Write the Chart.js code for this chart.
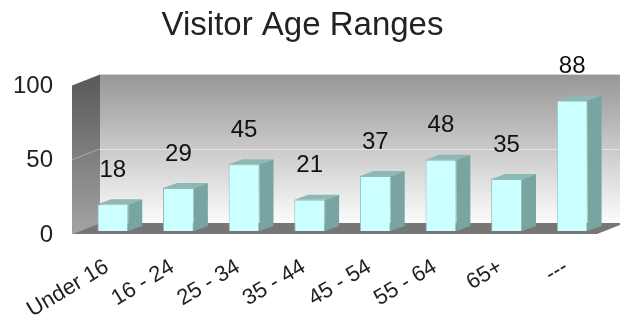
<!DOCTYPE html>
<html>
<head>
<meta charset="utf-8">
<script src="https://cdn.jsdelivr.net/npm/chart.js@4/dist/chart.umd.min.js"></script>
<style>
  html, body { margin: 0; padding: 0; background: #fff; }
  #wrap { width: 620px; height: 322px; }
</style>
</head>
<body>
<div id="wrap"><canvas id="chart" width="620" height="322"></canvas></div>
<script>
// data
const ageRanges = ['Under 16', '16 - 24', '25 - 34', '35 - 44', '45 - 54', '55 - 64', '65+', '---'];
const visitors = [18, 29, 45, 21, 37, 48, 35, 88];
const yTicks = [0, 50, 100];

const FONT = "'Liberation Sans', Arial, sans-serif";
// depth offsets (bar plane -> front of box / back wall, bar depth)
const FRONT = { x: -8, y: 3 };
const BACK = { x: 20, y: -8 };
const BAR_D = { x: 14, y: -5 };

// walls, floor and grid drawn behind the bars
const box3d = {
  id: 'box3d',
  beforeDatasetsDraw(chart) {
    const { ctx, chartArea: a, scales } = chart;
    const L = a.left, R = a.right, T = a.top, B = a.bottom;
    ctx.save();

    // back wall
    let g = ctx.createLinearGradient(0, T + BACK.y, 0, B + BACK.y);
    g.addColorStop(0, '#979797');
    g.addColorStop(1, '#fcfcfc');
    ctx.fillStyle = g;
    ctx.fillRect(L + BACK.x, T + BACK.y, R - L, B - T);

    // left wall
    g = ctx.createLinearGradient(0, T, 0, B);
    g.addColorStop(0, '#5c5c5c');
    g.addColorStop(1, '#a2a2a2');
    ctx.fillStyle = g;
    ctx.beginPath();
    ctx.moveTo(L + FRONT.x, T + FRONT.y);
    ctx.lineTo(L + BACK.x, T + BACK.y);
    ctx.lineTo(L + BACK.x, B + BACK.y);
    ctx.lineTo(L + FRONT.x, B + FRONT.y);
    ctx.closePath();
    ctx.fill();

    // floor
    ctx.fillStyle = '#767676';
    ctx.beginPath();
    ctx.moveTo(L + FRONT.x, B + FRONT.y);
    ctx.lineTo(L + BACK.x, B + BACK.y);
    ctx.lineTo(R + BACK.x, B + BACK.y);
    ctx.lineTo(R + FRONT.x, B + FRONT.y);
    ctx.closePath();
    ctx.fill();

    // grid lines
    ctx.lineWidth = 1;
    yTicks.forEach(v => {
      if (v === 0 || v === 100) return;
      const y = scales.y.getPixelForValue(v);
      ctx.strokeStyle = 'rgba(235,235,235,0.8)';
      ctx.beginPath();
      ctx.moveTo(L + BACK.x, Math.round(y + BACK.y) + 0.5);
      ctx.lineTo(R + BACK.x, Math.round(y + BACK.y) + 0.5);
      ctx.stroke();
      ctx.strokeStyle = 'rgba(200,200,200,0.6)';
      ctx.beginPath();
      ctx.moveTo(L + FRONT.x, y + FRONT.y);
      ctx.lineTo(L + BACK.x, y + BACK.y);
      ctx.stroke();
    });

    // bar sides and tops
    chart.getDatasetMeta(0).data.forEach(bar => {
      const { x, y, base, width } = bar.getProps(['x', 'y', 'base', 'width']);
      const l = x - width / 2, r = x + width / 2;
      ctx.fillStyle = '#78a5a1';
      ctx.beginPath();
      ctx.moveTo(r, y);
      ctx.lineTo(r + BAR_D.x, y + BAR_D.y);
      ctx.lineTo(r + BAR_D.x, base + BAR_D.y);
      ctx.lineTo(r, base);
      ctx.closePath();
      ctx.fill();
      ctx.fillStyle = '#8db9b5';
      ctx.beginPath();
      ctx.moveTo(l, y);
      ctx.lineTo(l + BAR_D.x, y + BAR_D.y);
      ctx.lineTo(r + BAR_D.x, y + BAR_D.y);
      ctx.lineTo(r, y);
      ctx.closePath();
      ctx.fill();
    });
    ctx.restore();
  },
  afterDatasetsDraw(chart) {
    const { ctx } = chart;
    ctx.save();
    ctx.font = '24px ' + FONT;
    ctx.fillStyle = '#111';
    ctx.textAlign = 'center';
    ctx.textBaseline = 'middle';
    chart.getDatasetMeta(0).data.forEach((bar, i) => {
      ctx.fillText(String(visitors[i]), bar.x, bar.y - 34);
    });
    ctx.restore();
  }
};

new Chart(document.getElementById('chart'), {
  type: 'bar',
  data: {
    labels: ageRanges,
    datasets: [{
      data: visitors,
      backgroundColor: '#ccffff',
      borderColor: '#90bdb9',
      borderWidth: 1,
      barPercentage: 0.47,
      categoryPercentage: 1
    }]
  },
  options: {
    responsive: false,
    animation: false,
    layout: { padding: { right: 15 } },
    plugins: {
      legend: { display: false },
      tooltip: { enabled: false },
      title: {
        display: true,
        text: 'Visitor Age Ranges',
        color: '#222',
        font: { family: FONT, size: 33, weight: 'normal' },
        padding: { top: 6, bottom: 37 }
      }
    },
    scales: {
      x: {
        grid: { display: false },
        border: { display: false },
        afterFit: s => { s.height = 91; },
        ticks: {
          color: '#222',
          font: { family: FONT, size: 22 },
          minRotation: 31,
          maxRotation: 31,
          padding: 15,
          labelOffset: -6,
          autoSkip: false
        }
      },
      y: {
        min: 0,
        max: 100,
        grid: { display: false, drawTicks: false },
        border: { display: false },
        afterFit: s => { s.width = 80; },
        afterBuildTicks: s => { s.ticks = yTicks.map(v => ({ value: v })); },
        ticks: {
          color: '#222',
          font: { family: FONT, size: 24 },
          padding: 27,
          labelOffset: 4
        }
      }
    }
  },
  plugins: [box3d]
});
</script>
</body>
</html>
